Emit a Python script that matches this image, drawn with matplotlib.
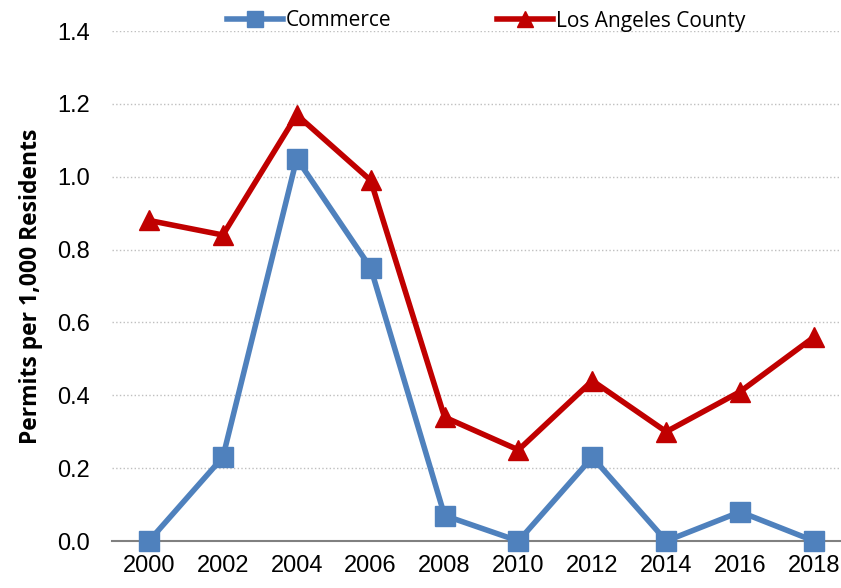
import matplotlib.pyplot as plt

years = ['2000', '2002', '2004', '2006', '2008', '2010', '2012', '2014', '2016', '2018']
commerce = [0.0, 0.23, 1.05, 0.75, 0.07, 0.0, 0.23, 0.0, 0.08, 0.0]
la_county = [0.88, 0.84, 1.17, 0.99, 0.34, 0.25, 0.44, 0.30, 0.41, 0.56]

fig = plt.figure(figsize=(8.41, 5.88), dpi=100)
ax = fig.add_axes([112/841, 47/588, 739/841, 510/588])

x = range(len(years))
ax.plot(x, commerce, color='#4F81BD', lw=4, marker='s', ms=14, label='Commerce', clip_on=False, zorder=3)
ax.plot(x, la_county, color='#C00000', lw=4, marker='^', ms=14, label='Los Angeles County', clip_on=False, zorder=3)

ax.set_xlim(-0.5, 9.5)
ax.set_ylim(0, 1.4)
ax.set_xticks(list(x))
ax.set_xticklabels(years)
ax.set_yticks([0, 0.2, 0.4, 0.6, 0.8, 1.0, 1.2, 1.4])
ax.set_yticklabels(['0.0', '0.2', '0.4', '0.6', '0.8', '1.0', '1.2', '1.4'])
tick_font = ['Liberation Sans Narrow', 'Liberation Sans', 'DejaVu Sans']
for lab in ax.get_xticklabels() + ax.get_yticklabels():
    lab.set_family(tick_font)
    lab.set_fontsize(17)
ax.tick_params(length=0, pad=10)
ax.tick_params(axis='y', pad=16)

ax.grid(axis='y', color='#BFBFBF', ls=':', lw=1)
ax.set_axisbelow(True)
for s in ['top', 'right', 'left']:
    ax.spines[s].set_visible(False)
ax.spines['bottom'].set_color('#808080')
ax.spines['bottom'].set_linewidth(1.5)

ax.set_ylabel('Permits per 1,000 Residents', fontsize=16.5, fontweight='bold', family=['Open Sans', 'DejaVu Sans'], labelpad=10)

leg = fig.legend(loc='center', bbox_to_anchor=(486/841, 1 - 21/588), ncol=2, frameon=False,
                 prop={'family': ['Open Sans', 'DejaVu Sans'], 'size': 15},
                 handlelength=2.7, columnspacing=5.1, handletextpad=0.1, markerscale=0.8)

fig.savefig('out.png', dpi=100)
